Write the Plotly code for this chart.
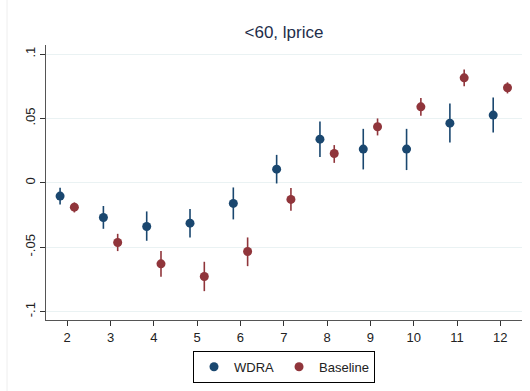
import plotly.graph_objects as go

categories = [2, 3, 4, 5, 6, 7, 8, 9, 10, 11, 12]

wdra_est = [-0.0103, -0.0269, -0.0339, -0.0313, -0.0160, 0.0106, 0.0339, 0.0262, 0.0262, 0.0463, 0.0526]
wdra_lo = [-0.0168, -0.0357, -0.0450, -0.0424, -0.0284, -0.0005, 0.0200, 0.0104, 0.0099, 0.0314, 0.0391]
wdra_hi = [-0.0039, -0.0180, -0.0222, -0.0204, -0.0036, 0.0217, 0.0477, 0.0419, 0.0419, 0.0616, 0.0663]

base_est = [-0.0189, -0.0463, -0.0629, -0.0727, -0.0533, -0.0129, 0.0228, 0.0435, 0.0590, 0.0815, 0.0738]
base_lo = [-0.0230, -0.0530, -0.0730, -0.0841, -0.0647, -0.0217, 0.0155, 0.0368, 0.0520, 0.0750, 0.0694]
base_hi = [-0.0152, -0.0396, -0.0530, -0.0613, -0.0424, -0.0041, 0.0293, 0.0500, 0.0658, 0.0880, 0.0780]

y_ticks = [-0.1, -0.05, 0, 0.05, 0.1]
y_ticklabels = ["-.1", "-.05", "0", ".05", ".1"]

NAVY = "#1a476f"
MAROON = "#90353b"
OFFSET = 0.165

fig = go.Figure()


def add_series(name, est, lo, hi, color, shift):
    fig.add_trace(go.Scatter(
        x=[c + shift for c in categories],
        y=est,
        mode="markers",
        name=name,
        marker=dict(color=color, size=9, line=dict(width=0)),
        error_y=dict(
            type="data",
            symmetric=False,
            array=[h - e for h, e in zip(hi, est)],
            arrayminus=[e - l for e, l in zip(est, lo)],
            color=color,
            thickness=1.6,
            width=0,
        ),
    ))


add_series("WDRA", wdra_est, wdra_lo, wdra_hi, NAVY, -OFFSET)
add_series("Baseline", base_est, base_lo, base_hi, MAROON, OFFSET)

fig.update_layout(
    width=530,
    height=391,
    margin=dict(l=46, r=8, t=45, b=71, autoexpand=False),
    paper_bgcolor="white",
    plot_bgcolor="white",
    font=dict(family="Liberation Sans, Arial, sans-serif", size=12, color="#222222"),
    title=dict(
        text="<60, lprice",
        x=0.5,
        xref="paper",
        xanchor="center",
        y=1 - 32 / 391,
        yanchor="middle",
        font=dict(size=17, color="#1e2d4a"),
    ),
    showlegend=True,
    legend=dict(
        orientation="h",
        x=0.5,
        xanchor="center",
        y=-0.112,
        yanchor="top",
        bordercolor="black",
        borderwidth=1,
        bgcolor="white",
        font=dict(size=13, color="#222222"),
        traceorder="normal",
        itemwidth=30,
        tracegroupgap=0,
    ),
    xaxis=dict(
        range=[1.51, 12.5],
        tickmode="array",
        tickvals=categories,
        ticktext=[str(c) for c in categories],
        ticks="outside",
        ticklen=5,
        tickcolor="#333333",
        showgrid=False,
        zeroline=False,
        showline=True,
        linecolor="#555555",
        linewidth=1,
        tickfont=dict(size=13, color="#222222"),
    ),
    yaxis=dict(
        range=[-0.1065, 0.107],
        tickmode="array",
        tickvals=y_ticks,
        ticktext=y_ticklabels,
        tickangle=-90,
        ticks="outside",
        ticklen=5,
        tickcolor="#333333",
        showgrid=True,
        gridcolor="#eaf2f3",
        gridwidth=1.2,
        zeroline=False,
        showline=True,
        linecolor="#555555",
        linewidth=1,
        tickfont=dict(size=13, color="#222222"),
    ),
)

fig.add_shape(type="line", xref="paper", yref="paper",
              x0=-39 / 476, x1=-39 / 476, y0=-71 / 275, y1=1 + 45 / 275,
              line=dict(color="#eeeeee", width=1))

fig.write_html("out.html", config={"displayModeBar": False},
               post_script="document.body.style.margin='0';")
